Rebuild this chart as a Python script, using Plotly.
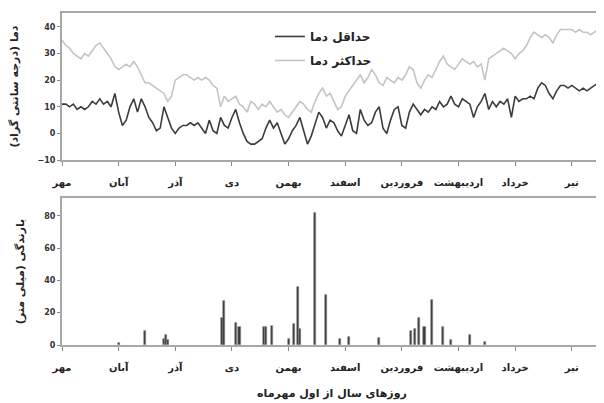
import plotly.graph_objects as go
from plotly.subplots import make_subplots

months = ["مهر", "آبان", "آذر", "دی", "بهمن", "اسفند", "فروردین", "اردیبهشت", "خرداد", "تیر"]
month_days = [0, 30, 60, 90, 120, 150, 180, 210, 240, 270]

step = 2
tmin = [11, 11, 10, 11, 9, 10, 9, 10, 12, 11, 13, 11, 12, 10, 15, 8, 3, 5, 10, 13,
        8, 13, 10, 6, 4, 1, 2, 10, 6, 2, 0, 2, 3, 3, 4, 3, 4, 2, 0, 5,
        1, 0, 6, 3, 2, 6, 9, 4, 0, -3, -4, -4, -3, -2, 2, 5, 2, 4, 0, -4,
        -2, 1, 3, 6, 1, -4, -1, 4, 8, 6, 2, 5, 4, 1, -1, 3, 7, 1, 0, 9,
        5, 3, 4, 8, 10, 2, 0, 5, 9, 10, 3, 2, 8, 11, 9, 7, 9, 8, 10, 9,
        12, 10, 11, 14, 11, 10, 13, 12, 11, 6, 10, 12, 15, 9, 12, 10, 12, 11, 13, 6,
        14, 12, 13, 13, 14, 13, 17, 19, 18, 15, 13, 16, 18, 18, 17, 18, 17, 16, 17, 16,
        17, 18, 19]
tmax = [35, 33, 32, 30, 29, 28, 30, 29, 31, 33, 34, 32, 30, 28, 25, 24, 25, 26, 25, 27,
        25, 22, 19, 19, 18, 17, 16, 15, 12, 14, 20, 21, 22, 22, 21, 20, 21, 20, 21, 20,
        18, 17, 10, 14, 12, 13, 14, 11, 10, 8, 12, 11, 9, 11, 10, 12, 10, 8, 9, 7,
        6, 8, 10, 12, 11, 9, 8, 12, 15, 17, 14, 15, 12, 9, 10, 14, 16, 18, 20, 22,
        19, 21, 24, 22, 19, 18, 21, 20, 19, 21, 20, 22, 25, 24, 19, 17, 20, 22, 21, 24,
        27, 29, 26, 25, 24, 26, 28, 27, 26, 27, 25, 26, 20, 28, 29, 30, 31, 32, 31, 30,
        28, 30, 31, 33, 36, 38, 37, 36, 37, 36, 34, 37, 39, 39, 39, 39, 38, 39, 38, 38,
        37, 38, 39]
days = [i * step for i in range(len(tmin))]

rain_days = [30, 44, 54, 55, 56, 85, 86, 92, 94, 107, 108, 111, 120, 123, 125, 126,
             134, 140, 147, 152, 168, 185, 187, 189, 192, 196, 202, 206, 216, 224]
rain_mm = [1, 9, 4, 6, 3, 17, 27, 13.5, 11, 11, 11, 11.5, 4, 13, 36, 10,
           81.5, 31, 4, 5, 4.5, 9, 10, 17, 11, 28, 11, 3, 6, 2]

font_fa = "DejaVu Sans"
fig = make_subplots(rows=2, cols=1, vertical_spacing=0.114, shared_xaxes=False)

fig.add_trace(go.Scatter(x=days, y=tmin, mode="lines", name="حداقل دما",
                         line=dict(color="#3c3c3c", width=1.6), legendgroup="a"), row=1, col=1)
fig.add_trace(go.Scatter(x=days, y=tmax, mode="lines", name="حداکثر دما",
                         line=dict(color="#c4c4c4", width=1.6), legendgroup="b"), row=1, col=1)
fig.add_trace(go.Bar(x=rain_days, y=rain_mm, width=1.1, showlegend=False,
                     marker=dict(color="#3c3c3c", line=dict(color="#888888", width=0.6))),
              row=2, col=1)

axis_common = dict(showgrid=False, zeroline=False, showline=True, mirror=True,
                   linecolor="#a8a8a8", linewidth=2, automargin=False)
tickfont = dict(family=font_fa, size=8, color="#333333", weight="bold")
for r in (1, 2):
    fig.update_xaxes(range=[0, 286], tickvals=month_days, ticktext=months,
                     ticks="outside", ticklen=4, tickcolor="#888888",
                     tickfont=dict(family=font_fa, size=10, color="#222222", weight="bold"),
                     ticklabelstandoff=8, row=r, col=1, **axis_common)

fig.update_yaxes(range=[-10, 45.2], tickvals=[-10, 0, 10, 20, 30, 40],
                 ticks="outside", ticklen=3, tickcolor="#888888", tickfont=tickfont,
                 title=dict(text="دما (درجه سانتی گراد)", standoff=17,
                            font=dict(family=font_fa, size=11, color="#222222", weight="bold")),
                 row=1, col=1, **axis_common)
fig.update_yaxes(range=[0, 91], tickvals=[0, 20, 40, 60, 80],
                 ticks="outside", ticklen=3, tickcolor="#888888", tickfont=tickfont,
                 title=dict(text="بارندگی (میلی متر)", standoff=17,
                            font=dict(family=font_fa, size=11, color="#222222", weight="bold")),
                 row=2, col=1, **axis_common)
fig.update_xaxes(title=dict(text="روزهای سال از اول مهرماه", standoff=16,
                            font=dict(family=font_fa, size=11, color="#222222", weight="bold")),
                 row=2, col=1)

# The page body adds an 8px offset, so the figure is sized to fill the 604x403 window.
fig.update_layout(
    width=596, height=395,
    margin=dict(l=54, r=2, t=5, b=58),
    paper_bgcolor="white", plot_bgcolor="white",
    bargap=0,
    showlegend=True,
    legend=dict(x=0.385, y=0.973, xanchor="left", yanchor="top", bgcolor="rgba(0,0,0,0)",
                font=dict(family=font_fa, size=12, color="#222222", weight="bold"),
                tracegroupgap=5),
)

fig.write_html("out.html")
